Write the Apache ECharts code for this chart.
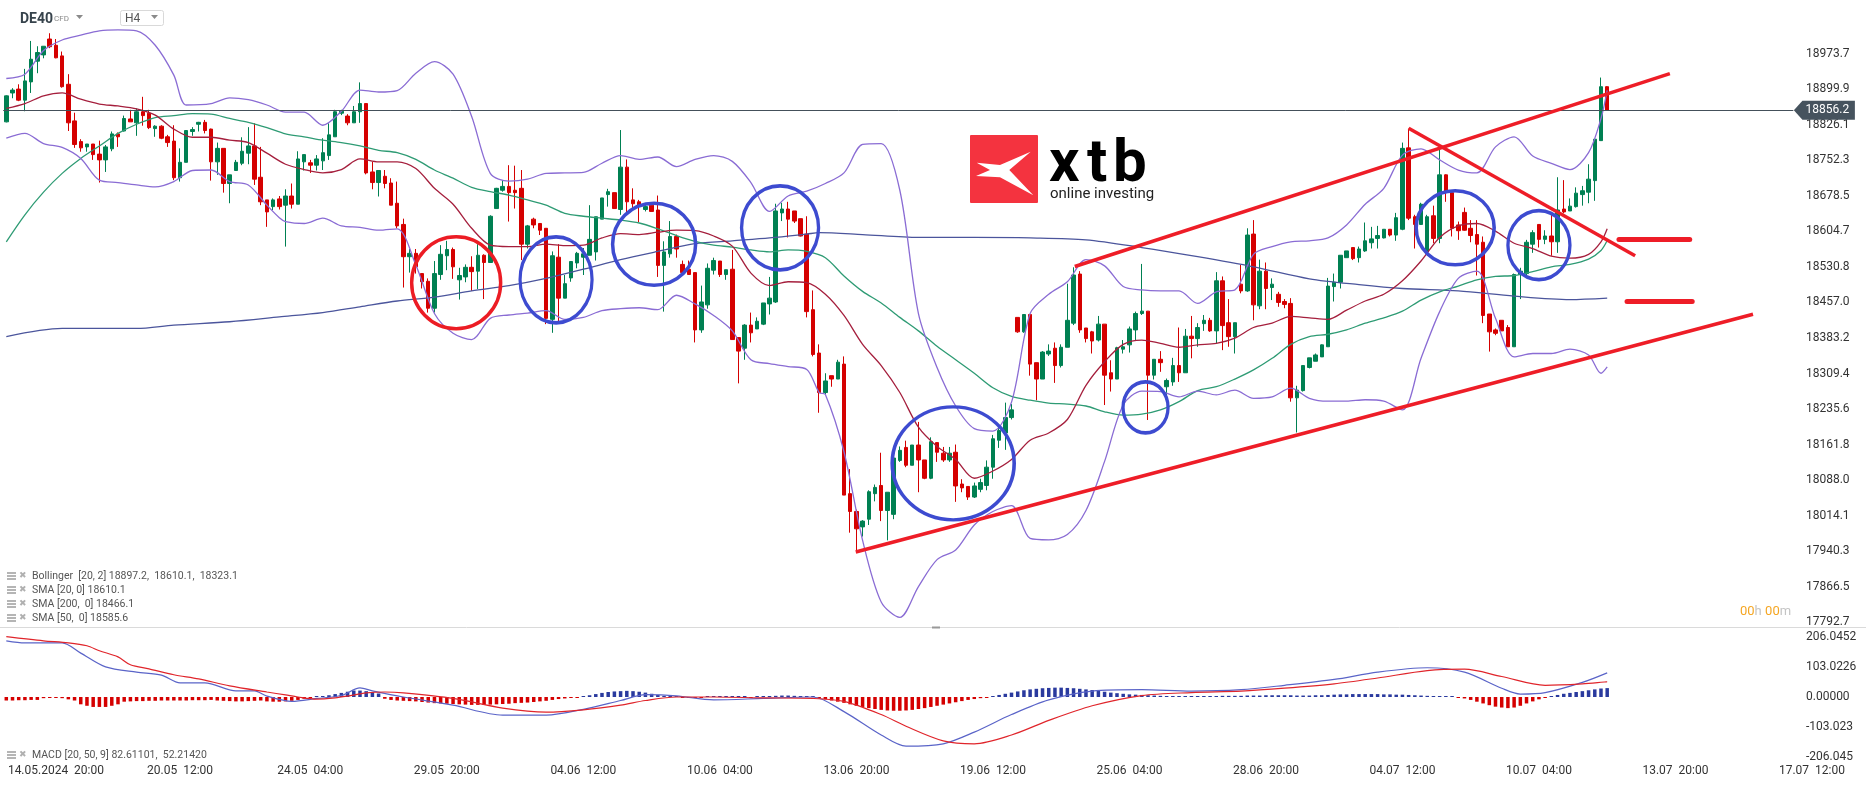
<!DOCTYPE html>
<html>
<head>
<meta charset="utf-8">
<script src="https://cdn.jsdelivr.net/npm/echarts@6/dist/echarts.min.js"></script>
<style>
  html, body { margin: 0; padding: 0; background: #fff; }
  #chart { width: 1866px; height: 787px; }
</style>
</head>
<body>
<div id="chart"></div>
<script>
// DE40 H4, bars from 13.05.2024 20:00 to 12.07.2024 00:00
const opens = [18832,18892,18900,18877,18915,18958,18971,19004,18991,18969,18910,18834,18791,18780,18786,18765,18753,18776,18807,18813,
18838,18830,18853,18850,18818,18823,18801,18792,18716,18748,18812,18827,18831,18817,18749,18777,18704,18731,18746,18767,
18782,18717,18670,18656,18672,18659,18678,18661,18749,18747,18742,18751,18762,18801,18850,18844,18830,18853,18870,18728,
18706,18719,18705,18663,18619,18552,18559,18517,18501,18445,18515,18554,18567,18504,18510,18530,18522,18555,18540,18652,
18690,18698,18690,18694,18578,18630,18621,18611,18422,18551,18466,18508,18539,18551,18555,18562,18630,18681,18685,18650,
18738,18670,18666,18650,18659,18649,18534,18558,18594,18536,18526,18519,18400,18452,18524,18543,18515,18526,18384,18362,
18410,18402,18412,18454,18458,18643,18651,18647,18631,18599,18442,18352,18270,18305,18298,18329,18060,18023,17991,18007,
18060,18077,18025,18017,18129,18156,18119,18161,18130,18092,18166,18144,18130,18146,18080,18075,18053,18069,18077,18115,
18171,18186,18218,18426,18396,18432,18332,18298,18350,18362,18326,18364,18414,18516,18404,18396,18379,18412,18311,18298,
18360,18369,18400,18434,18439,18306,18339,18282,18292,18326,18311,18387,18382,18413,18420,18398,18502,18415,18386,18495,
18481,18599,18450,18522,18488,18474,18459,18455,18259,18274,18322,18335,18344,18365,18490,18499,18550,18571,18550,18564,
18581,18590,18591,18609,18597,18609,18778,18635,18619,18562,18637,18590,18722,18685,18618,18644,18611,18598,18582,18433,
18400,18420,18405,18365,18515,18517,18578,18619,18588,18595,18583,18651,18647,18656,18681,18686,18710,18793,18905];
const highs = [18887,18902,18910,18942,19000,18989,18989,19016,19004,18978,18931,18851,18796,18786,18786,18793,18784,18812,18810,18845,
18857,18860,18884,18857,18825,18825,18805,18825,18777,18814,18821,18832,18836,18818,18789,18777,18722,18753,18800,18821,
18829,18780,18670,18673,18678,18692,18704,18771,18764,18753,18763,18798,18829,18857,18857,18848,18865,18914,18870,18749,
18731,18732,18715,18708,18631,18568,18568,18517,18507,18543,18576,18585,18571,18529,18536,18553,18578,18557,18638,18695,
18711,18742,18741,18732,18618,18633,18621,18611,18563,18578,18514,18542,18562,18570,18659,18635,18674,18693,18685,18815,
18754,18694,18670,18662,18664,18679,18584,18626,18598,18544,18544,18519,18492,18538,18550,18543,18525,18566,18384,18412,
18436,18426,18456,18510,18662,18664,18666,18647,18631,18636,18482,18370,18310,18305,18338,18345,18111,18027,18005,18067,
18079,18145,18063,18134,18158,18170,18161,18209,18130,18177,18166,18157,18157,18162,18090,18075,18083,18091,18129,18182,
18198,18249,18246,18426,18432,18432,18332,18356,18370,18374,18370,18496,18530,18522,18404,18398,18429,18412,18337,18365,
18379,18407,18438,18537,18439,18339,18356,18299,18342,18405,18402,18429,18414,18431,18425,18520,18511,18464,18415,18535,
18611,18628,18546,18540,18507,18479,18464,18466,18284,18327,18342,18351,18370,18508,18517,18555,18564,18571,18573,18623,
18614,18616,18609,18609,18643,18789,18818,18639,18664,18639,18658,18774,18723,18687,18625,18654,18628,18628,18594,18433,
18403,18420,18410,18517,18529,18587,18607,18619,18607,18639,18717,18711,18673,18696,18699,18744,18796,18924,18906];
const lows = [18831,18881,18875,18854,18892,18933,18964,18985,18964,18903,18813,18778,18770,18770,18753,18706,18728,18771,18780,18812,
18832,18803,18824,18817,18801,18796,18780,18711,18708,18748,18803,18812,18808,18710,18722,18685,18663,18730,18742,18744,
18701,18659,18614,18649,18650,18573,18652,18661,18731,18726,18731,18732,18753,18801,18846,18825,18830,18830,18723,18692,
18677,18694,18659,18611,18488,18519,18517,18486,18436,18436,18504,18524,18506,18463,18499,18481,18485,18464,18540,18652,
18687,18625,18652,18545,18569,18611,18597,18412,18394,18414,18466,18500,18528,18514,18555,18544,18630,18656,18652,18639,
18642,18652,18624,18646,18646,18510,18438,18550,18550,18519,18514,18374,18394,18444,18515,18510,18504,18380,18289,18338,
18374,18402,18410,18432,18456,18626,18592,18622,18594,18426,18345,18228,18266,18282,18298,18057,17979,17943,17971,17995,
18044,18003,17963,18007,18126,18115,18119,18063,18090,18090,18126,18126,18126,18043,18063,18047,18051,18063,18067,18091,
18155,18151,18214,18394,18394,18305,18254,18298,18346,18290,18322,18364,18410,18394,18374,18351,18376,18244,18272,18298,
18351,18353,18379,18431,18213,18297,18313,18261,18284,18292,18311,18341,18365,18398,18396,18372,18358,18365,18351,18476,
18479,18420,18443,18443,18462,18448,18445,18251,18187,18272,18320,18335,18344,18365,18459,18486,18550,18545,18540,18562,
18569,18569,18590,18594,18585,18607,18628,18569,18618,18562,18580,18580,18666,18594,18587,18606,18582,18513,18414,18355,
18389,18398,18365,18365,18464,18514,18560,18571,18578,18554,18560,18642,18647,18654,18658,18663,18668,18793,18856.2];
const closes = [18886,18898,18877,18917,18962,18976,18989,18988,18965,18905,18830,18785,18778,18786,18764,18753,18780,18807,18801,18839,
18832,18853,18845,18820,18823,18798,18789,18716,18748,18814,18816,18831,18814,18749,18777,18704,18722,18748,18771,18782,
18713,18666,18645,18670,18656,18678,18661,18755,18764,18742,18755,18768,18805,18853,18854,18830,18853,18870,18726,18706,
18731,18704,18659,18616,18552,18559,18531,18500,18445,18517,18557,18567,18531,18513,18530,18521,18555,18540,18636,18694,
18698,18685,18685,18578,18616,18618,18607,18424,18554,18466,18496,18542,18559,18558,18588,18635,18674,18687,18652,18738,
18666,18662,18658,18656,18646,18534,18562,18594,18568,18519,18515,18400,18458,18528,18544,18515,18525,18380,18356,18410,
18394,18418,18456,18466,18647,18651,18630,18626,18595,18438,18349,18270,18294,18298,18333,18057,18023,17987,18003,18064,
18073,18025,18063,18134,18150,18119,18161,18130,18092,18168,18146,18130,18144,18076,18072,18053,18076,18083,18115,18174,
18191,18218,18234,18396,18432,18329,18298,18354,18356,18326,18364,18420,18514,18400,18382,18377,18412,18306,18298,18363,
18365,18402,18434,18439,18306,18339,18332,18295,18326,18311,18387,18382,18405,18420,18398,18502,18409,18386,18415,18481,
18597,18452,18522,18486,18495,18457,18453,18259,18275,18326,18342,18348,18369,18491,18499,18555,18564,18548,18568,18585,
18589,18596,18609,18597,18633,18777,18632,18619,18661,18635,18590,18722,18687,18611,18606,18607,18596,18578,18430,18396,
18393,18398,18365,18515,18522,18582,18602,18588,18595,18583,18649,18645,18657,18684,18689,18713,18796,18905,18856.2];

// indicator lines as [bar, value]
const bbUpper = [[0,18922],[3,18931],[6,18980],[9,19002],[12,19012],[15,19021],[18,19023],[21,19021],[24,18991],[27,18929],[29,18867],[33,18870],[36,18882],[39,18878],[42,18867],[45,18852],[48,18852],[51,18825],[54,18854],[57,18898],[60,18894],[63,18897],[66,18933],[69,18957],[72,18931],[75,18843],[78,18725],[81,18709],[84,18713],[87,18725],[90,18726],[93,18727],[96,18746],[99,18762],[102,18754],[105,18759],[108,18739],[111,18754],[114,18762],[117,18750],[120,18706],[123,18646],[126,18678],[129,18688],[132,18704],[135,18726],[138,18785],[141,18787],[144,18690],[147,18434],[150,18322],[153,18242],[156,18195],[159,18190],[162,18250],[165,18434],[168,18474],[171,18500],[174,18546],[177,18533],[180,18490],[183,18483],[186,18481],[189,18481],[192,18455],[195,18479],[198,18483],[201,18557],[204,18573],[207,18583],[210,18585],[213,18591],[216,18618],[219,18661],[222,18694],[225,18763],[228,18776],[231,18753],[234,18732],[237,18726],[240,18780],[243,18801],[246,18761],[249,18746],[252,18733],[255,18768],[257,18839],[258,18897.2]];
const bbLower = [[0,18798],[3,18808],[6,18787],[9,18779],[12,18756],[15,18711],[18,18706],[21,18701],[24,18697],[27,18708],[30,18731],[33,18732],[36,18708],[39,18701],[42,18659],[44,18633],[45,18625],[48,18621],[51,18632],[54,18616],[57,18613],[60,18607],[63,18610],[66,18535],[69,18434],[72,18393],[75,18380],[78,18424],[81,18431],[84,18435],[87,18440],[90,18422],[93,18426],[96,18440],[99,18444],[102,18446],[105,18442],[108,18472],[111,18454],[114,18430],[117,18398],[120,18338],[123,18330],[126,18324],[129,18318],[131,18270],[132,18266],[135,18147],[138,17963],[141,17835],[144,17803],[147,17867],[150,17923],[153,17943],[156,17995],[159,18023],[162,18035],[165,17967],[168,17964],[171,17975],[174,18025],[177,18127],[180,18244],[183,18273],[186,18272],[189,18261],[192,18273],[195,18265],[198,18275],[201,18258],[204,18261],[207,18279],[210,18258],[213,18252],[216,18252],[219,18255],[222,18252],[225,18234],[228,18341],[231,18438],[234,18507],[237,18522],[240,18424],[243,18344],[246,18351],[249,18351],[252,18360],[255,18348],[257,18310],[258,18323.1]];
const sma20 = [[0,18860],[3,18870],[6,18886],[9,18892],[12,18879],[15,18869],[18,18865],[21,18859],[24,18846],[27,18817],[30,18800],[33,18800],[36,18794],[39,18789],[42,18767],[45,18744],[48,18733],[51,18726],[54,18733],[57,18755],[60,18749],[63,18749],[66,18735],[69,18694],[72,18661],[75,18611],[78,18576],[81,18573],[84,18573],[87,18578],[90,18575],[93,18576],[96,18591],[99,18600],[102,18598],[105,18603],[108,18607],[111,18606],[114,18595],[117,18574],[120,18518],[123,18492],[126,18500],[129,18498],[132,18474],[135,18430],[138,18370],[141,18326],[144,18270],[147,18198],[150,18158],[153,18131],[156,18092],[159,18107],[162,18131],[165,18171],[168,18186],[171,18214],[174,18285],[177,18334],[180,18370],[183,18379],[186,18372],[189,18364],[192,18369],[195,18372],[198,18383],[201,18405],[204,18414],[207,18428],[210,18425],[213,18422],[216,18441],[219,18460],[222,18474],[225,18502],[228,18543],[231,18592],[234,18616],[237,18621],[240,18605],[243,18580],[246,18569],[249,18553],[252,18549],[255,18557],[257,18583],[258,18610.1]];
const sma50 = [[0,18583],[3,18639],[6,18686],[9,18725],[12,18756],[15,18782],[18,18808],[21,18827],[24,18841],[27,18845],[30,18849],[33,18848],[36,18839],[39,18831],[42,18820],[45,18807],[48,18801],[51,18794],[54,18789],[57,18782],[60,18773],[63,18768],[66,18754],[69,18732],[72,18715],[75,18696],[78,18687],[81,18680],[84,18670],[87,18659],[90,18642],[93,18636],[96,18632],[99,18628],[102,18622],[105,18610],[108,18596],[111,18584],[114,18576],[117,18572],[120,18566],[123,18562],[126,18566],[129,18563],[132,18550],[135,18512],[138,18480],[141,18456],[144,18426],[147,18398],[150,18366],[153,18338],[156,18310],[159,18280],[162,18262],[165,18254],[168,18248],[171,18246],[174,18242],[177,18230],[180,18223],[183,18225],[186,18234],[189,18251],[192,18274],[195,18282],[198,18298],[201,18317],[204,18341],[207,18370],[210,18386],[213,18391],[216,18400],[219,18414],[222,18425],[225,18439],[228,18462],[231,18479],[234,18491],[237,18504],[240,18511],[243,18513],[246,18521],[249,18531],[252,18536],[255,18547],[257,18565],[258,18585.6]];
const sma200 = [[0,18386],[9,18403],[21,18403],[27,18410],[36,18417],[44,18427],[51,18436],[57,18448],[63,18460],[69,18468],[75,18481],[81,18492],[87,18507],[93,18526],[99,18546],[105,18563],[111,18579],[117,18585],[123,18591],[129,18599],[131,18602],[138,18598],[147,18592],[156,18592],[165,18591],[174,18587],[183,18571],[192,18552],[201,18531],[210,18506],[218,18494],[225,18486],[234,18481],[243,18470],[252,18463],[258,18466.1]];

// MACD [20, 50, 9]
const macdLine = [[0,192],[3,185],[9,185],[12,150],[16,103],[21,85],[25,75],[28,48],[32,48],[37,21],[40,21],[42,3],[46,-15],[50,-5],[54,5],[57,31],[59,21],[64,0],[72,-28],[80,-62],[87,-62],[93,-42],[99,-12],[103,8],[108,4],[114,-10],[122,-5],[130,0],[135,-50],[141,-130],[145,-168],[151,-160],[156,-120],[162,-60],[168,-10],[175,20],[183,25],[191,20],[199,25],[206,40],[214,60],[221,85],[229,100],[235,85],[241,30],[244,10],[248,15],[254,50],[258,82.6]];
const signalLine = [[0,206],[6,192],[10,185],[13,175],[15,158],[18,137],[20,110],[23,96],[27,76],[31,62],[36,38],[42,17],[45,7],[47,0],[50,-7],[53,-3],[55,3],[58,14],[61,17],[64,14],[72,-5],[80,-38],[87,-52],[93,-44],[99,-28],[103,-12],[108,0],[114,0],[122,-3],[130,-5],[135,-15],[141,-60],[145,-100],[151,-150],[156,-160],[162,-130],[168,-80],[175,-30],[183,5],[191,15],[199,20],[206,30],[214,45],[221,65],[229,90],[235,95],[241,70],[248,40],[254,45],[258,52.2]];
const macdHist = [
  -12,-12,-11,-11,-10,-10, -4,-3,-3,-4, -8,-12, -25,-30,-34,-34,-34,-30,-25,
  -16,-15,-14,-14,-13,-13,-12,-12,-12,-12,-12,-11,-11,-11,-10,-12,-13,-14,-15,-15,-14,-13,-12,
  -15,-16,-16,-15,-13,-10,-6, -2,2,3, 6,10,14,18,22,22,20,16,12,
  -6,-10,-12,-13,-14,-15,-17,-19,-21,-22,-23,-24,-25,-26,-27,-27,-27,-26,-25,-24,-23,-21,-20,-19,-17,-15,-13,-10,-7,-5,-3,-1,
  2,6,10,14,17,19,20,21,20,18,15,11,7,
  4,2,1,-1,-2,-2,-1,1,2,3,3,2,1,0,-1,1,2,3,4,5,5,4,3,2,0,
  -4,-8,-12,-16,-20,-25,-30,-34,-38,-41,-44,-46,-47,-47,-46,-44,-41,-38,-34,-30,-26,-22,-18,-14,-10,-7,-4,-1,
  3,7,11,15,19,23,26,28,30,31,32,32,31,30,28,26,24,21,18,15,13,11,9,8,7,
  6,5,4,3,3,2,2,2,2,3,3,3,4,4,4,4,5,5,5,6,6,6,6,6,5,5,5,6,6,7,8,9,9,10,10,10,10,10,9,9,8,8,7,6,5,4,3,2,1,0,-2,
  -5,-10,-16,-22,-28,-33,-36,-38,-36,-30,-22,-15,
  -8,-2,3,7,11,14,17,20,23,26,29,30.4
];

// axis labels
const xTickIdx = [8, 28, 49, 71, 93, 115, 137, 159, 181, 203, 225, 247, 269, 291];
const xTickText = ['14.05.2024  20:00', '20.05  12:00', '24.05  04:00', '29.05  20:00', '04.06  12:00', '10.06  04:00',
  '13.06  20:00', '19.06  12:00', '25.06  04:00', '28.06  20:00', '04.07  12:00', '10.07  04:00', '13.07  20:00', '17.07  12:00'];
const macdTickText = ['-206.045', '-103.023', '0.00000', '103.0226', '206.0452'];
const lastPrice = 18856.2;

// hand-drawn analysis marks: [bar, price]
const trendLines = [
  [[172.2, 18531.6], [268.1, 18932]],
  [[136.9, 17939], [281.5, 18432.6]],
  [[226.0, 18818.6], [262.5, 18554]]
];
const levelLines = [[[259.9, 18588], [271.3, 18588]], [[261.2, 18460], [271.7, 18460]]];
// [bar, price, width px, height px, colour]
const rings = [
  [72.5, 18498, 89, 92, '#ec1c24'],
  [88.6, 18504, 72, 86, '#3d4bd0'],
  [104.4, 18578, 83, 82, '#3d4bd0'],
  [124.7, 18612, 77, 84, '#3d4bd0'],
  [152.6, 18123, 122, 113, '#3d4bd0'],
  [183.6, 18239, 45, 51, '#3d4bd0'],
  [233.5, 18612, 78, 74, '#3d4bd0'],
  [247.0, 18576, 62, 69, '#3d4bd0']
];

const N = 298;           // bar slots on the time axis (history + empty future)
const BASE = 17792.70;   // price axis origin
const STEP = 73.814;     // price axis step
const pv = v => v - BASE;
const cats = Array.from({ length: N }, (_, i) => String(i));

const chart = echarts.init(document.getElementById('chart'));

const candles = opens.map((o, i) => [pv(o), pv(closes[i]), pv(lows[i]), pv(highs[i])]);
const toPx = arr => arr.map(([i, v]) => [i, pv(v)]);

const lineSeries = (name, data, color, width) => ({
  name, type: 'line', xAxisIndex: 0, yAxisIndex: 0,
  data: toPx(data), symbol: 'none', smooth: 0.3, z: 3,
  lineStyle: { color, width: width || 1.3 }
});

const ellipse = 'path://M0,50A50,50 0 1,1 100,50A50,50 0 1,1 0,50Z';

const font = 'Roboto, "Noto Sans", sans-serif';
const legendRow = (y, text) => [
  { type: 'rect', shape: { x: 7, y: y - 4, width: 9, height: 2 }, style: { fill: '#b5b5b5' } },
  { type: 'rect', shape: { x: 7, y: y - 1, width: 9, height: 2 }, style: { fill: '#b5b5b5' } },
  { type: 'rect', shape: { x: 7, y: y + 2, width: 9, height: 2 }, style: { fill: '#b5b5b5' } },
  { type: 'text', x: 19, y: y, style: { text: '✖', font: '9px "DejaVu Sans"', fill: '#b0b0b0', verticalAlign: 'middle' } },
  { type: 'text', x: 32, y: y, style: { text: text, font: '10.5px ' + font, fill: '#555', verticalAlign: 'middle' } }
];

const option = {
  animation: false,
  backgroundColor: '#fff',
  textStyle: { fontFamily: font },
  grid: [
    { left: 3.2, top: 18.05, width: 1849.09, height: 604.35 },
    { left: 3.2, top: 636.7, width: 1849.09, height: 120.6 }
  ],
  xAxis: [
    { type: 'category', gridIndex: 0, data: cats, boundaryGap: true,
      axisLine: { show: false }, axisTick: { show: false }, axisLabel: { show: false }, splitLine: { show: false } },
    { type: 'category', gridIndex: 1, data: cats, boundaryGap: true,
      axisLine: { show: false }, axisTick: { show: false }, splitLine: { show: false },
      axisLabel: {
        color: '#333', fontSize: 12, margin: 8, fontFamily: font,
        interval: (i) => xTickIdx.indexOf(i) >= 0,
        formatter: (v, i) => { const k = xTickIdx.indexOf(i); return k >= 0 ? xTickText[k] : ''; }
      } },
    { type: 'value', gridIndex: 0, min: -0.5, max: N - 0.5, show: false }
  ],
  yAxis: [
    { type: 'value', gridIndex: 0, position: 'right', offset: -54.3,
      min: 0, max: STEP * 17, interval: STEP,
      axisLine: { show: false }, axisTick: { show: false }, splitLine: { show: false },
      axisLabel: { color: '#333', fontSize: 12, margin: 8, showMaxLabel: false,
        formatter: v => (v + BASE).toFixed(1) } },
    { type: 'value', gridIndex: 1, position: 'right', offset: -54.3,
      min: -206.0452, max: 206.0452, interval: 103.0226,
      axisLine: { show: false }, axisTick: { show: false }, splitLine: { show: false },
      axisLabel: { color: '#333', fontSize: 12, margin: 8,
        formatter: v => macdTickText[Math.round(v / 103.0226) + 2] } }
  ],
  series: [
    { name: 'DE40', type: 'candlestick', xAxisIndex: 0, yAxisIndex: 0, data: candles, barWidth: 4, z: 2,
      itemStyle: { color: '#008052', color0: '#d50000', borderColor: '#008052', borderColor0: '#d50000', borderWidth: 1 } },
    lineSeries('SMA 200', sma200, '#4b559c'),
    lineSeries('SMA 50', sma50, '#2e9b74'),
    lineSeries('Bollinger upper', bbUpper, '#8a6cd4'),
    lineSeries('Bollinger lower', bbLower, '#8a6cd4'),
    lineSeries('SMA 20', sma20, '#a51f3d'),
    { name: 'marks', type: 'line', xAxisIndex: 2, yAxisIndex: 0, data: [], symbol: 'none', silent: true, z: 5,
      markLine: {
        silent: true, symbol: ['none', 'none'], label: { show: false }, animation: false,
        data: [
          [{ coord: [-0.5, pv(lastPrice)], lineStyle: { color: '#44505a', width: 1, type: 'solid' } },
           { coord: [288, pv(lastPrice)] }],
          ...trendLines.map(([a, b]) => [
            { coord: [a[0], pv(a[1])], lineStyle: { color: '#ee1d27', width: 3.5, type: 'solid' } },
            { coord: [b[0], pv(b[1])] }]),
          ...levelLines.map(([a, b]) => [
            { coord: [a[0], pv(a[1])], lineStyle: { color: '#ee1d27', width: 5, type: 'solid', cap: 'round' } },
            { coord: [b[0], pv(b[1])] }])
        ]
      },
      markPoint: {
        silent: true, animation: false,
        data: [
          ...rings.map(([x, y, w, h, c]) => ({
            coord: [x, pv(y)], symbol: ellipse, symbolSize: [w, h], label: { show: false },
            itemStyle: { color: 'rgba(0,0,0,0)', borderColor: c, borderWidth: 3.5 }
          })),
          { coord: [293.0, pv(lastPrice)], symbol: 'path://M0,50L14,0L100,0L100,100L14,100Z', symbolSize: [61, 19],
            itemStyle: { color: '#46535e' },
            label: { show: true, formatter: lastPrice.toFixed(1), color: '#fff', fontSize: 12, offset: [3, 0], fontFamily: font } }
        ]
      }
    },
    { name: 'MACD hist', type: 'bar', xAxisIndex: 1, yAxisIndex: 1, barWidth: 3.5, barMinHeight: 1, z: 1,
      data: macdHist.map(v => ({ value: v, itemStyle: { color: v >= 0 ? '#2a3a9e' : '#d50000' } })) },
    { name: 'MACD', type: 'line', xAxisIndex: 1, yAxisIndex: 1, data: macdLine, symbol: 'none', smooth: 0.3, z: 3,
      lineStyle: { color: '#5a64c8', width: 1.2 } },
    { name: 'Signal', type: 'line', xAxisIndex: 1, yAxisIndex: 1, data: signalLine, symbol: 'none', smooth: 0.3, z: 3,
      lineStyle: { color: '#e0252b', width: 1.2 } }
  ],
  graphic: [
    // panel separator
    { type: 'line', shape: { x1: 0, y1: 627.5, x2: 1866, y2: 627.5 }, style: { stroke: '#dadada', lineWidth: 1 } },
    { type: 'line', shape: { x1: 932, y1: 627.5, x2: 940, y2: 627.5 }, style: { stroke: '#999', lineWidth: 2 } },
    // instrument header
    { type: 'text', x: 20, y: 19, style: { text: 'DE40', font: 'bold 14px ' + font, fill: '#37434c', verticalAlign: 'middle' } },
    { type: 'text', x: 54, y: 19, style: { text: 'CFD', font: '8px ' + font, fill: '#8a8a8a', verticalAlign: 'middle' } },
    { type: 'polygon', shape: { points: [[76, 15], [83, 15], [79.5, 19]] }, style: { fill: '#8a8a8a' } },
    { type: 'rect', shape: { x: 120.5, y: 10.5, width: 43, height: 15, r: 2 }, style: { fill: '#fff', stroke: '#d9d9d9' } },
    { type: 'text', x: 125, y: 18.5, style: { text: 'H4', font: '12px ' + font, fill: '#555', verticalAlign: 'middle' } },
    { type: 'polygon', shape: { points: [[151, 15], [158, 15], [154.5, 19]] }, style: { fill: '#8a8a8a' } },
    // logo
    { type: 'rect', shape: { x: 970, y: 135, width: 68, height: 68, r: 1 }, style: { fill: '#f4333f' } },
    { type: 'polygon', shape: { points: [[976.7, 162.7], [1000, 165], [1030.7, 151.7], [1009.3, 170], [1033.3, 195.3],
        [1000, 177.3], [976, 176], [990, 170]] }, style: { fill: '#fff' } },
    { type: 'text', x: 1049, y: 166, style: { text: 'x', font: 'bold 60px ' + font, fill: '#000', verticalAlign: 'middle' } },
    { type: 'text', x: 1087, y: 166, style: { text: 't', font: 'bold 60px ' + font, fill: '#000', verticalAlign: 'middle' } },
    { type: 'text', x: 1113, y: 166, style: { text: 'b', font: 'bold 60px ' + font, fill: '#000', verticalAlign: 'middle' } },
    { type: 'text', x: 1050, y: 194, style: { text: 'online investing', font: '15px ' + font, fill: '#222', verticalAlign: 'middle' } },
    // countdown
    { type: 'text', x: 1740, y: 612, style: { text: '{o|00}{g|h} {o|00}{g|m}', verticalAlign: 'middle',
        rich: { o: { fill: '#f5a623', font: '13px ' + font }, g: { fill: '#c4c4c4', font: '13px ' + font } } } },
    // indicator legends
    ...legendRow(576, 'Bollinger  [20, 2] 18897.2,  18610.1,  18323.1'),
    ...legendRow(590, 'SMA [20, 0] 18610.1'),
    ...legendRow(604, 'SMA [200,  0] 18466.1'),
    ...legendRow(618, 'SMA [50,  0] 18585.6'),
    ...legendRow(755, 'MACD [20, 50, 9] 82.61101,  52.21420')
  ]
};

chart.setOption(option);
</script>
</body>
</html>
